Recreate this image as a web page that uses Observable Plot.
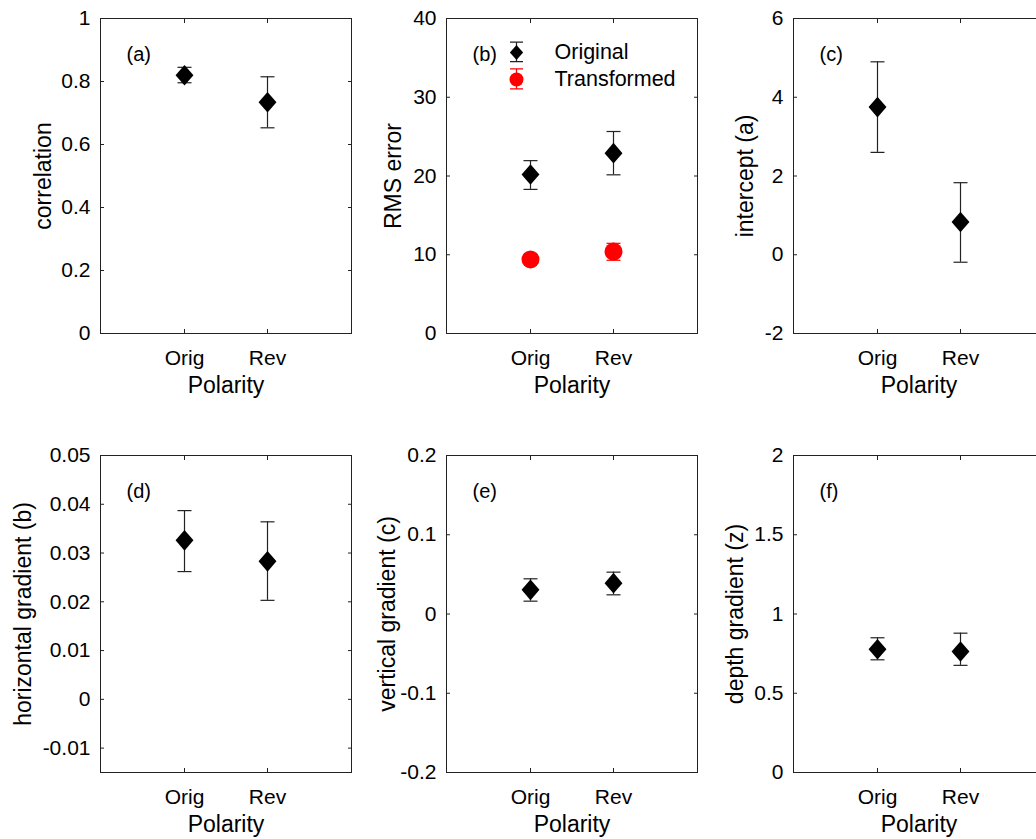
<!DOCTYPE html>
<html><head><meta charset="utf-8">
<script src="https://cdn.jsdelivr.net/npm/d3@7"></script>
<script src="https://cdn.jsdelivr.net/npm/@observablehq/plot@0.6"></script>
<style>
html,body{margin:0;padding:0;background:#fff;overflow:hidden;}
#wrap{position:relative;width:1036px;height:839px;overflow:hidden;background:#fff;}
#wrap svg{position:absolute;}
</style></head><body><div id="wrap"></div>
<script>
// ---- data ----
const polarity = ["Orig", "Rev"];
const xLabel = "Polarity";

const corrMean = [0.82, 0.734];
const corrLow = [0.796, 0.653];
const corrHigh = [0.845, 0.815];
const corrTicks = [0, 0.2, 0.4, 0.6, 0.8, 1];

const rmsOrigMean = [20.2, 22.9];
const rmsOrigLow = [18.3, 20.15];
const rmsOrigHigh = [21.95, 25.65];
const rmsTransMean = [9.4, 10.4];
const rmsTransLow = [8.9, 9.3];
const rmsTransHigh = [9.9, 11.45];
const rmsTicks = [0, 10, 20, 30, 40];
const legendNames = ["Original", "Transformed"];

const interceptMean = [3.75, 0.83];
const interceptLow = [2.6, -0.19];
const interceptHigh = [4.9, 1.83];
const interceptTicks = [-2, 0, 2, 4, 6];

const hGradMean = [0.0326, 0.0283];
const hGradLow = [0.0262, 0.0203];
const hGradHigh = [0.0387, 0.0364];
const hGradTicks = [-0.01, 0, 0.01, 0.02, 0.03, 0.04, 0.05];

const vGradMean = [0.0305, 0.0389];
const vGradLow = [0.0162, 0.0242];
const vGradHigh = [0.0444, 0.0528];
const vGradTicks = [-0.2, -0.1, 0, 0.1, 0.2];

const zGradMean = [0.778, 0.763];
const zGradLow = [0.711, 0.676];
const zGradHigh = [0.85, 0.879];
const zGradTicks = [0, 0.5, 1, 1.5, 2];

// ---- symbols ----
const diamond = {draw(ctx, size) {
  const r = Math.sqrt(size / Math.PI), hw = r * 0.87, hh = r;
  ctx.moveTo(0, -hh); ctx.lineTo(hw, 0); ctx.lineTo(0, hh); ctx.lineTo(-hw, 0); ctx.closePath();
}};
const cap = {draw(ctx, size) {
  const r = Math.sqrt(size / Math.PI);
  ctx.moveTo(-r, 0); ctx.lineTo(r, 0);
}};
function ibeam(half, capHalf) {
  return {draw(ctx) {
    ctx.moveTo(0, -half); ctx.lineTo(0, half);
    ctx.moveTo(-capHalf, -half); ctx.lineTo(capHalf, -half);
    ctx.moveTo(-capHalf, half); ctx.lineTo(capHalf, half);
  }};
}

const FONT = "'Liberation Sans', Arial, Helvetica, sans-serif";
const INK = "#222";
const RED = "#ff0000";

function rows(mean, low, high) {
  return polarity.map((p, i) => ({p, mean: mean[i], low: low[i], high: high[i]}));
}

function panel({left, top, frameH, tag, yLabel, labelDx, domain, ticks, series, legend}) {
  const marks = [
    Plot.frame({stroke: INK, strokeWidth: 1}),
    Plot.axisX({anchor: "bottom", tickSize: 0, tickPadding: 17, fontSize: 21, label: null, fill: "#000"}),
    Plot.axisX({anchor: "bottom", tickSize: -4, tickFormat: () => "", label: null, stroke: INK}),
    Plot.axisX({anchor: "top", tickSize: -4, tickFormat: () => "", label: null, stroke: INK}),
    Plot.axisY({anchor: "left", ticks, tickSize: 0, tickPadding: 10, tickFormat: d => String(d), fontSize: 21, label: null, fill: "#000"}),
    Plot.axisY({anchor: "left", ticks, tickSize: -4, tickFormat: () => "", label: null, stroke: INK}),
    Plot.axisY({anchor: "right", ticks, tickSize: -4, tickFormat: () => "", label: null, stroke: INK})
  ];
  for (const s of series) {
    const data = rows(s.mean, s.low, s.high);
    marks.push(
      Plot.ruleX(data, {x: "p", y1: "low", y2: "high", stroke: s.bar, strokeWidth: 1.2}),
      Plot.dot(data, {x: "p", y: "low", symbol: cap, r: 7, stroke: s.bar, fill: "none", strokeWidth: 1.2}),
      Plot.dot(data, {x: "p", y: "high", symbol: cap, r: 7, stroke: s.bar, fill: "none", strokeWidth: 1.2}),
      Plot.dot(data, {x: "p", y: "mean", symbol: s.symbol, r: s.r, fill: s.color, stroke: "none"})
    );
  }
  marks.push(
    Plot.text([tag], {text: d => d, frameAnchor: "top-left", dx: 26, dy: 36, textAnchor: "start", lineAnchor: "middle", fontSize: 20, fill: "#000"}),
    Plot.text([yLabel], {text: d => d, frameAnchor: "left", dx: labelDx, rotate: -90, textAnchor: "middle", lineAnchor: "middle", fontSize: 23, fill: "#000"}),
    Plot.text([xLabel], {text: d => d, frameAnchor: "bottom", dy: 52, textAnchor: "middle", lineAnchor: "middle", fontSize: 23, fill: "#000"})
  );
  if (legend) {
    marks.push(
      Plot.dot([0], {frameAnchor: "top-left", dx: 70, dy: 33.4, symbol: ibeam(9.7, 6.5), stroke: INK, fill: "none", strokeWidth: 1.2}),
      Plot.dot([0], {frameAnchor: "top-left", dx: 70, dy: 34, symbol: diamond, r: 7.6, fill: "#000"}),
      Plot.dot([0], {frameAnchor: "top-left", dx: 70, dy: 60.3, symbol: ibeam(10, 6.5), stroke: RED, fill: "none", strokeWidth: 1.2}),
      Plot.dot([0], {frameAnchor: "top-left", dx: 70, dy: 61, r: 7, fill: RED}),
      Plot.text([legendNames[0]], {text: d => d, frameAnchor: "top-left", dx: 108, dy: 34, textAnchor: "start", lineAnchor: "middle", fontSize: 21.5, fill: "#000"}),
      Plot.text([legendNames[1]], {text: d => d, frameAnchor: "top-left", dx: 108, dy: 61, textAnchor: "start", lineAnchor: "middle", fontSize: 21.5, fill: "#000"})
    );
  }
  const svg = Plot.plot({
    width: 351,
    height: 18 + frameH + 62,
    marginLeft: 90, marginRight: 10, marginTop: 18, marginBottom: 62,
    x: {type: "point", domain: polarity, padding: 1},
    y: {domain, ticks},
    style: {fontFamily: FONT, background: "transparent", overflow: "visible", maxWidth: "none"},
    marks
  });
  svg.style.left = left + "px";
  svg.style.top = top + "px";
  document.getElementById("wrap").appendChild(svg);
}

const blackDiamond = (mean, low, high) => ({mean, low, high, symbol: diamond, r: 10.3, color: "#000", bar: INK});

panel({left: 10, top: 0, frameH: 315, tag: "(a)", yLabel: "correlation", labelDx: -57, domain: [0, 1], ticks: corrTicks,
  series: [blackDiamond(corrMean, corrLow, corrHigh)]});
panel({left: 356, top: 0, frameH: 315, tag: "(b)", yLabel: "RMS error", labelDx: -53, domain: [0, 40], ticks: rmsTicks, legend: true,
  series: [blackDiamond(rmsOrigMean, rmsOrigLow, rmsOrigHigh),
           {mean: rmsTransMean, low: rmsTransLow, high: rmsTransHigh, symbol: "circle", r: 9, color: RED, bar: RED}]});
panel({left: 703, top: 0, frameH: 315, tag: "(c)", yLabel: "intercept (a)", labelDx: -48, domain: [-2, 6], ticks: interceptTicks,
  series: [blackDiamond(interceptMean, interceptLow, interceptHigh)]});
panel({left: 10, top: 437, frameH: 317, tag: "(d)", yLabel: "horizontal gradient (b)", labelDx: -77, domain: [-0.015, 0.05], ticks: hGradTicks,
  series: [blackDiamond(hGradMean, hGradLow, hGradHigh)]});
panel({left: 356, top: 437, frameH: 317, tag: "(e)", yLabel: "vertical gradient (c)", labelDx: -59, domain: [-0.2, 0.2], ticks: vGradTicks,
  series: [blackDiamond(vGradMean, vGradLow, vGradHigh)]});
panel({left: 703, top: 437, frameH: 317, tag: "(f)", yLabel: "depth gradient (z)", labelDx: -58, domain: [0, 2], ticks: zGradTicks,
  series: [blackDiamond(zGradMean, zGradLow, zGradHigh)]});
</script></body></html>
